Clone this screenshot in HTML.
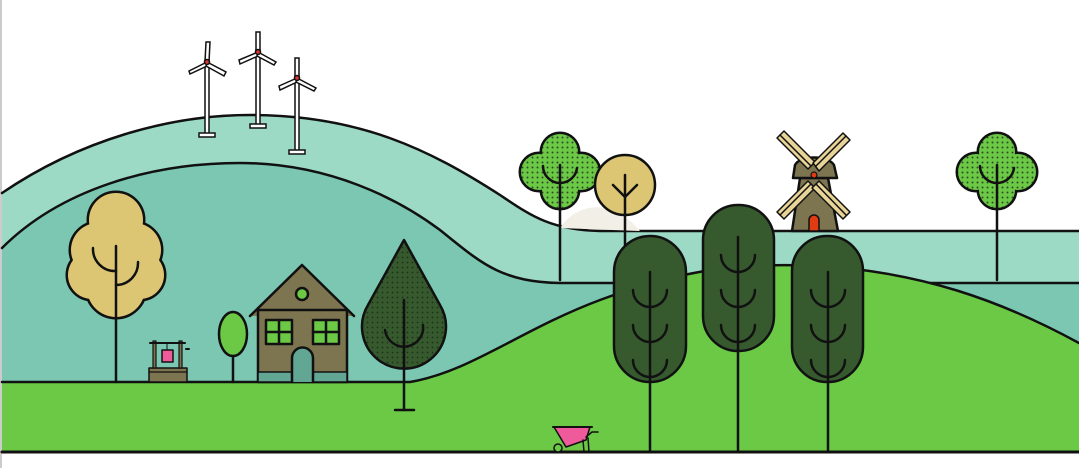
<!DOCTYPE html>
<html><head><style>html,body{margin:0;padding:0;background:#fff;}svg{display:block}</style></head>
<body>
<svg width="1079" height="468" viewBox="0 0 1079 468" xmlns="http://www.w3.org/2000/svg">
<defs>
<pattern id="dots" width="5" height="5" patternUnits="userSpaceOnUse"><rect width="5" height="5" fill="#6bc946"/><circle cx="2.5" cy="2.5" r="1" fill="#2f4a25"/></pattern>
<pattern id="ddots" width="5" height="5" patternUnits="userSpaceOnUse"><rect width="5" height="5" fill="#365a2e"/><circle cx="2.5" cy="2.5" r="0.9" fill="#1e3018"/></pattern>
</defs>
<rect x="0" y="0" width="2" height="468" fill="#ccc"/>
<g stroke="#111" stroke-width="2.5" stroke-linejoin="round" stroke-linecap="round">
<path d="M2,193 C80,140 170,115 250,115 C360,115 430,150 500,195 C530,215 550,230 600,231 L1079,231 L1079,300 L2,300 Z" fill="#9ddac5" stroke="none"/>
<path d="M2,193 C80,140 170,115 250,115 C360,115 430,150 500,195 C530,215 550,230 600,231 L1079,231" fill="none"/>
<path d="M560,228 C575,205 610,195 640,231 Z" fill="#f2efe6" stroke="none"/>
<path d="M2,248 C60,190 150,163 240,163 C330,163 400,200 440,230 C480,262 500,282 560,283 L1079,283 L1079,400 L2,400 Z" fill="#7bc7b2" stroke="none"/>
<path d="M2,248 C60,190 150,163 240,163 C330,163 400,200 440,230 C480,262 500,282 560,283 L1079,283" fill="none"/>
<path d="M2,382 L410,382 C470,372 520,330 600,300 C680,270 740,262 820,266 C920,272 1000,300 1079,343 L1079,452 L2,452 Z" fill="#6bc946" stroke="none"/>
<path d="M2,382 L410,382 C470,372 520,330 600,300 C680,270 740,262 820,266 C920,272 1000,300 1079,343" fill="none"/>
<line x1="2" y1="452" x2="1079" y2="452" stroke-width="3"/>
</g>
<g stroke="#111" stroke-width="1.5" fill="#fff">
<g><rect x="205" y="60" width="4" height="75"/><rect x="199" y="133" width="16" height="4"/><path d="M205,62 L206,42 L210,42 L209,62Z"/><path d="M207,62 L189,71 L190,74 L207,66Z"/><path d="M207,62 L226,72 L224,76 L206,66Z"/><circle cx="207" cy="62" r="2.5" fill="#d33"/></g>
<g><rect x="256" y="50" width="4" height="75"/><rect x="250" y="124" width="16" height="4"/><path d="M256,52 L256,32 L260,32 L260,52Z"/><path d="M258,52 L239,60 L240,64 L258,56Z"/><path d="M258,52 L276,62 L274,65 L257,56Z"/><circle cx="258" cy="52" r="2.5" fill="#d33"/></g>
<g><rect x="295" y="76" width="4" height="75"/><rect x="289" y="150" width="16" height="4"/><path d="M295,78 L295,58 L299,58 L299,78Z"/><path d="M297,78 L279,86 L280,90 L297,82Z"/><path d="M297,78 L316,88 L314,91 L296,82Z"/><circle cx="297" cy="78" r="2.5" fill="#d33"/></g>
</g>
<g stroke="#111" stroke-width="2.5" stroke-linecap="round" stroke-linejoin="round" fill="none">
<!-- yellow cloud tree (union of circles) -->
<g stroke="#111" stroke-width="5" fill="#111">
<circle cx="116" cy="220" r="27"/><circle cx="98" cy="250" r="27"/><circle cx="134" cy="250" r="27"/><circle cx="92" cy="275" r="24"/><circle cx="140" cy="275" r="24"/><circle cx="116" cy="288" r="29"/>
</g>
<g stroke="none" fill="#dcc673">
<circle cx="116" cy="220" r="27"/><circle cx="98" cy="250" r="27"/><circle cx="134" cy="250" r="27"/><circle cx="92" cy="275" r="24"/><circle cx="140" cy="275" r="24"/><circle cx="116" cy="288" r="29"/>
</g>
<line x1="116" y1="246" x2="116" y2="382"/>
<path d="M93,248 A22,22 0 0 0 116,271"/><path d="M138,262 A22,22 0 0 1 116,285"/>
<ellipse cx="233" cy="334" rx="14" ry="22" fill="#6bc946"/><line x1="233" y1="356" x2="233" y2="382"/>
<path d="M250,316 L302,265 L354,316" fill="#7d7550"/>
<rect x="258" y="310" width="89" height="72" fill="#7d7550"/>
<path d="M258,372 L347,372 L347,382 L258,382Z" fill="#62a694" stroke-width="1.5"/>
<circle cx="302" cy="294" r="6" fill="#6bc946"/>
<rect x="266" y="320" width="26" height="24" fill="#6bc946"/><line x1="279" y1="320" x2="279" y2="344"/><line x1="266" y1="332" x2="292" y2="332"/>
<rect x="313" y="320" width="26" height="24" fill="#6bc946"/><line x1="326" y1="320" x2="326" y2="344"/><line x1="313" y1="332" x2="339" y2="332"/>
<path d="M292,382 L292,358 A10.5,10.5 0 0 1 313,358 L313,382" fill="#62a694"/>
<path d="M404,240 L440,305 A42,42 0 1 1 368,305 Z" fill="url(#ddots)"/>
<line x1="404" y1="300" x2="404" y2="410"/><line x1="395" y1="410" x2="414" y2="410"/>
<path d="M385,330 A19,19 0 0 0 423,325"/>
<!-- well -->
<rect x="149" y="368" width="38" height="14" fill="#7d7550" stroke-width="1.5"/>
<line x1="149" y1="372" x2="187" y2="372" stroke-width="1.2"/>
<rect x="153" y="341" width="3" height="27" fill="#7d7550" stroke-width="1.2"/>
<rect x="179" y="341" width="3" height="27" fill="#7d7550" stroke-width="1.2"/>
<line x1="150" y1="343" x2="185" y2="343" stroke-width="2"/>
<line x1="186" y1="349" x2="189" y2="349" stroke-width="2"/>
<rect x="162" y="350" width="11" height="12" fill="#ee5a9a" stroke-width="1.5"/>
<line x1="167" y1="343" x2="167" y2="350" stroke-width="1"/>
<!-- green cloud trees -->
<g stroke="#111" stroke-width="5" fill="#111">
<circle cx="560" cy="152" r="18"/><circle cx="539" cy="172" r="18"/><circle cx="581" cy="172" r="18"/><circle cx="560" cy="190" r="18"/>
<circle cx="997" cy="152" r="18"/><circle cx="976" cy="172" r="18"/><circle cx="1018" cy="172" r="18"/><circle cx="997" cy="190" r="18"/>
</g>
<g stroke="none" fill="url(#dots)">
<circle cx="560" cy="152" r="18"/><circle cx="539" cy="172" r="18"/><circle cx="581" cy="172" r="18"/><circle cx="560" cy="190" r="18"/><rect x="545" y="160" width="30" height="25"/>
<circle cx="997" cy="152" r="18"/><circle cx="976" cy="172" r="18"/><circle cx="1018" cy="172" r="18"/><circle cx="997" cy="190" r="18"/><rect x="982" y="160" width="30" height="25"/>
</g>
<line x1="560" y1="165" x2="560" y2="280"/>
<path d="M543,166 A17,17 0 0 0 560,183 M560,183 A17,17 0 0 0 577,168"/>
<line x1="997" y1="165" x2="997" y2="280"/>
<path d="M980,166 A17,17 0 0 0 997,183 M997,183 A17,17 0 0 0 1014,168"/>
<circle cx="625" cy="185" r="30" fill="#dcc673"/>
<line x1="625" y1="175" x2="625" y2="245"/><path d="M613,185 L625,197 L637,185"/>
<!-- windmill -->
<path d="M800,178 L828,178 L838,231 L792,231Z" fill="#7d7550"/>
<path d="M793,178 L795,165 C800,155 828,155 834,165 L837,178Z" fill="#7d7550"/>
<path d="M809,231 L809,220 A5,5 0 0 1 819,220 L819,231Z" fill="#e03b12" stroke-width="1.5"/>
<g fill="#e8d497" stroke-width="1.5">
<path d="M808,169 L777,138 L784,131 L815,162Z"/><path d="M813,163 L843,133 L850,140 L819,171Z"/>
<path d="M815,188 L784,219 L777,212 L808,181Z"/><path d="M819,181 L850,212 L843,219 L812,188Z"/>
<line x1="780" y1="135" x2="811" y2="166"/><line x1="846" y1="136" x2="816" y2="166"/><line x1="780" y1="215" x2="811" y2="184"/><line x1="846" y1="215" x2="816" y2="184"/>
</g>
<circle cx="814" cy="175" r="3" fill="#e03b12" stroke-width="1.2"/>
<rect x="614" y="236" width="72" height="146" rx="36" fill="#365a2e"/>
<line x1="650" y1="272" x2="650" y2="452"/>
<path d="M633,290 A17,17 0 0 0 667,290"/><path d="M633,325 A17,17 0 0 0 667,325"/><path d="M633,360 A17,17 0 0 0 667,360"/>
<rect x="703" y="205" width="71" height="146" rx="35" fill="#365a2e"/>
<line x1="738" y1="237" x2="738" y2="452"/>
<path d="M721,255 A17,17 0 0 0 755,255"/><path d="M721,290 A17,17 0 0 0 755,290"/><path d="M721,325 A17,17 0 0 0 755,325"/>
<rect x="792" y="236" width="71" height="146" rx="35" fill="#365a2e"/>
<line x1="828" y1="272" x2="828" y2="452"/>
<path d="M811,290 A17,17 0 0 0 845,290"/><path d="M811,325 A17,17 0 0 0 845,325"/><path d="M811,360 A17,17 0 0 0 845,360"/>
<path d="M554,427 L590,427 L586,440 L566,447Z" fill="#ee5a9a" stroke-width="1.5"/>
<line x1="553" y1="427" x2="592" y2="427" stroke-width="2"/>
<path d="M586,437 L592,432 L598,432" stroke-width="1.5"/>
<line x1="583" y1="440" x2="584" y2="452" stroke-width="1.5"/><line x1="588" y1="438" x2="589" y2="452" stroke-width="1.5"/>
<circle cx="558" cy="448" r="4" fill="#6bc946" stroke-width="1.5"/>
</g>
</svg>
</body></html>
